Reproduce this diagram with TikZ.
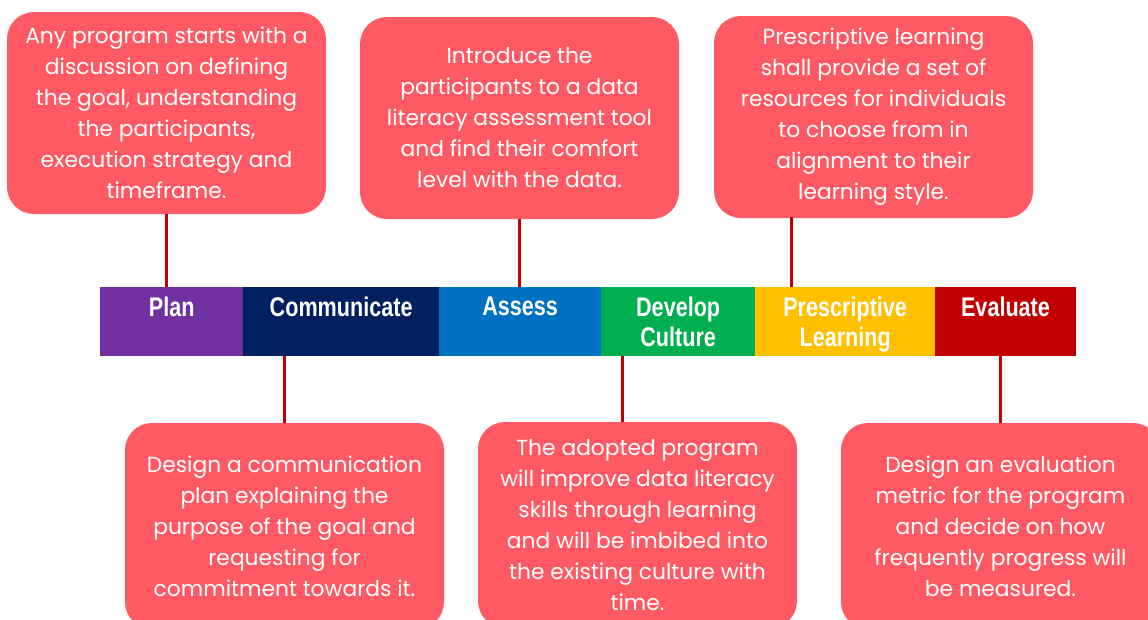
\documentclass[tikz,border=0pt]{standalone}
\usepackage{fontspec}
\newfontfamily\boxfont{Poppins}
\newfontfamily\barfont{Liberation Sans}[FakeStretch=0.8]
\definecolor{boxred}{HTML}{FF5A64}
\definecolor{linkred}{HTML}{C00000}
\definecolor{cplan}{HTML}{7030A0}
\definecolor{ccomm}{HTML}{002060}
\definecolor{cassess}{HTML}{0070C0}
\definecolor{cdevelop}{HTML}{00B050}
\definecolor{cpresc}{HTML}{FFC000}
\definecolor{ceval}{HTML}{C00000}
\newcommand{\nodepth}[1]{\raisebox{0pt}[\height][0pt]{#1}}
\tikzset{
  bubble/.style={fill=boxred, rounded corners=27pt, minimum width=319pt,
    minimum height=202pt, inner sep=0pt, outer sep=0pt, anchor=north west, text=white,
    align=center, font=\boxfont\fontsize{21.8}{31}\selectfont},
  seg/.style={minimum height=69pt, inner sep=0pt, outer sep=0pt, anchor=north west,
    text=white, align=center, font=\barfont\bfseries\fontsize{27}{30}\selectfont},
  link/.style={draw=linkred, line width=3pt}
}
\begin{document}
\begin{tikzpicture}[x=1pt,y=-1pt]
\useasboundingbox (0,0) rectangle (1148,619);
\clip (0,0) rectangle (1148,619);
% bar segments
\node[seg, fill=cplan, minimum width=143.3pt] (s1) at (100,287) {Plan\\\mbox{}};
\node[seg, fill=ccomm, minimum width=196.3pt] (s2) at ([xshift=-0.3pt]s1.north east) {Communicate\\\mbox{}};
\node[seg, fill=cassess, minimum width=162.3pt] (s3) at ([xshift=-0.3pt]s2.north east) {Assess\\\mbox{}};
\node[seg, fill=cdevelop, minimum width=154.3pt] (s4) at ([xshift=-0.3pt]s3.north east) {Develop\\Culture};
\node[seg, fill=cpresc, minimum width=180.3pt] (s5) at ([xshift=-0.3pt]s4.north east) {Prescriptive\\\nodepth{Learning}};
\node[seg, fill=ceval, minimum width=141pt] (s6) at ([xshift=-0.3pt]s5.north east) {Evaluate\\\mbox{}};
% top boxes
\node[bubble] (b1) at (7,12) {Any program starts with a\\discussion on defining\\the goal, understanding\\the participants,\\execution strategy and\\timeframe.};
\node[bubble] (b2) at (360,17) {Introduce the\\participants to a data\\literacy assessment tool\\and find their comfort\\level with the data.};
\node[bubble] (b3) at (714,16) {Prescriptive learning\\shall provide a set of\\resources for individuals\\to choose from in\\alignment to their\\learning style.};
% bottom boxes
\node[bubble, minimum height=206pt] (b4) at (125,423) {Design a communication\\plan explaining the\\purpose of the goal and\\requesting for\\commitment towards it.};
\node[bubble, minimum height=206pt] (b5) at (478,422) {The adopted program\\will improve data literacy\\skills through learning\\and will be imbibed into\\the existing culture with\\time.};
\node[bubble, minimum height=206pt] (b6) at (841,423) {Design an evaluation\\metric for the program\\and decide on how\\frequently progress will\\be measured.};
% connector anchor points
\coordinate (c3) at (791,217);
\coordinate (c5) at (622,356);
% connectors
\draw[link] (b1.south) -- (b1.south |- s1.north);
\draw[link] (b2.south) -- (b2.south |- s3.north);
\draw[link] (c3) -- (c3 |- s5.north);
\draw[link] (b4.north) -- (b4.north |- s2.south);
\draw[link] (c5) -- (c5 |- b5.north);
\draw[link] (b6.north) -- (b6.north |- s6.south);
\end{tikzpicture}
\end{document}
